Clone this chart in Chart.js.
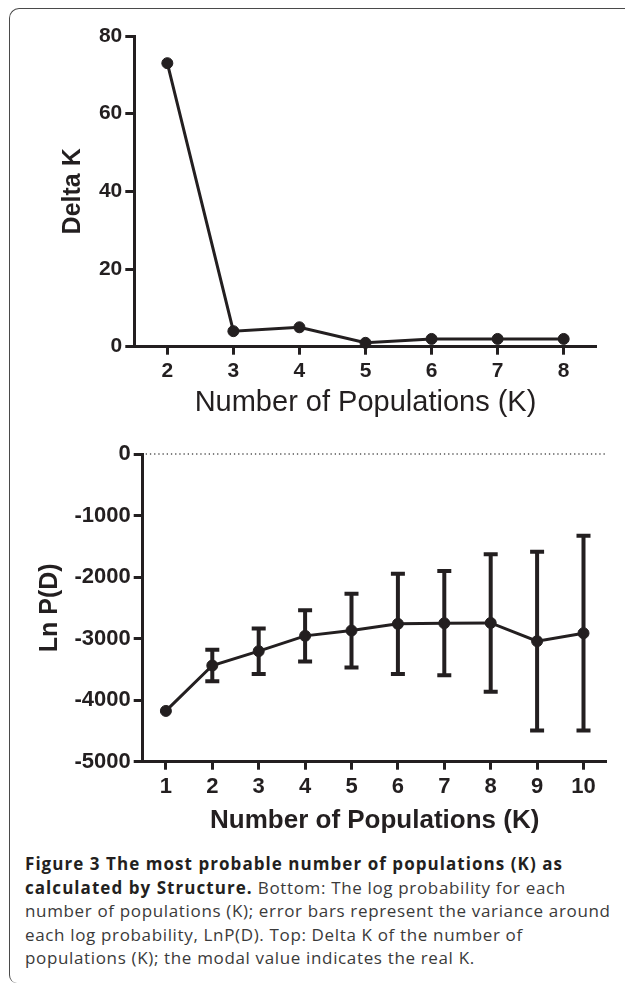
<!DOCTYPE html>
<html>
<head>
<meta charset="utf-8">
<script src="https://cdn.jsdelivr.net/npm/chart.js@4.4.1/dist/chart.umd.min.js"></script>
<style>
  html, body { margin: 0; padding: 0; background: #fff; }
  body { width: 625px; height: 985px; position: relative; overflow: hidden; }
  .frame {
    position: absolute; left: 9px; top: 8px; width: 700px; height: 974px;
    border-top: 1.5px solid #4a4a4a; border-left: 1.5px solid #4a4a4a;
    border-top-left-radius: 10px; border-bottom-left-radius: 8px;
  }
  canvas { position: absolute; left: 0; }
  #deltaKChart { top: 0; }
  #lnPChart { top: 430px; }
  .caption {
    position: absolute; left: 25px; top: 852px;
    font-family: "Open Sans", sans-serif; font-size: 17px; line-height: 23.6px;
    letter-spacing: 0.65px; color: #3a3a3a; white-space: nowrap;
  }
  .caption b { color: #231f20; font-weight: 700; letter-spacing: 1.05px; }
</style>
</head>
<body>
<div class="frame"></div>
<canvas id="deltaKChart" width="625" height="430" style="width:625px;height:430px"></canvas>
<canvas id="lnPChart" width="625" height="420" style="width:625px;height:420px"></canvas>
<div class="caption">
  <div><b>Figure 3 The most probable number of populations (K) as</b></div>
  <div><b>calculated by Structure.</b> Bottom: The log probability for each</div>
  <div>number of populations (K); error bars represent the variance around</div>
  <div>each log probability, LnP(D). Top: Delta K of the number of</div>
  <div>populations (K); the modal value indicates the real K.</div>
</div>
<script>
// Top panel: Delta K
const deltaK = [2, 3, 4, 5, 6, 7, 8];
const deltaKValues = [73, 4, 5, 1, 2, 2, 2];
const deltaKTicks = [0, 20, 40, 60, 80];

// Bottom panel: Ln P(D) with error bars
const populationsK = [1, 2, 3, 4, 5, 6, 7, 8, 9, 10];
const lnPMean = [-4175, -3437, -3204, -2955, -2869, -2760, -2750, -2745, -3042, -2912];
const lnPError = [0, 255, 370, 415, 600, 815, 847, 1118, 1452, 1582];
const lnPTicks = [-5000, -4000, -3000, -2000, -1000, 0];

const INK = '#231f20';
Chart.defaults.font.family = '"Liberation Sans", Arial, Helvetica, sans-serif';
Chart.defaults.color = INK;

const errorBars = {
    id: 'errorBars',
    beforeDatasetsDraw(chart) {
        // dotted reference line at zero
        const {ctx, chartArea, scales: {y}} = chart;
        const y0 = y.getPixelForValue(0);
        ctx.save();
        ctx.setLineDash([1.3, 2.9]);
        ctx.lineWidth = 1.3;
        ctx.strokeStyle = '#555';
        ctx.beginPath();
        ctx.moveTo(chartArea.left + 3, y0);
        ctx.lineTo(chartArea.right + 1, y0);
        ctx.stroke();
        ctx.restore();
    },
    afterDatasetsDraw(chart) {
        const {ctx, scales: {x, y}} = chart;
        ctx.save();
        ctx.strokeStyle = INK;
        ctx.lineWidth = 4;
        populationsK.forEach((k, i) => {
            const err = lnPError[i];
            if (!err) return;
            const px = x.getPixelForValue(k);
            const top = y.getPixelForValue(lnPMean[i] + err);
            const bot = y.getPixelForValue(lnPMean[i] - err);
            ctx.beginPath();
            ctx.moveTo(px, top);
            ctx.lineTo(px, bot);
            ctx.moveTo(px - 7, top);
            ctx.lineTo(px + 7, top);
            ctx.moveTo(px - 7, bot);
            ctx.lineTo(px + 7, bot);
            ctx.stroke();
        });
        ctx.restore();
    }
};

function axisGrid(len) {
    return {
        drawOnChartArea: false,
        drawTicks: true,
        tickLength: len,
        tickWidth: 3,
        tickColor: INK
    };
}

function lineDataset(xs, ys) {
    return {
        data: xs.map((k, i) => ({x: k, y: ys[i]})),
        borderColor: INK,
        borderWidth: 3,
        tension: 0,
        pointRadius: 5.5,
        pointBorderWidth: 1,
        pointBackgroundColor: INK,
        pointBorderColor: INK,
        clip: false
    };
}

const plainLabel = v => String(v);

new Chart(document.getElementById('deltaKChart'), {
    type: 'line',
    data: { datasets: [lineDataset(deltaK, deltaKValues)] },
    options: {
        responsive: false,
        animation: false,
        devicePixelRatio: 1,
        layout: { padding: { top: 36, right: 28.3, left: 0, bottom: 0 } },
        plugins: { legend: { display: false }, tooltip: { enabled: false } },
        scales: {
            x: {
                type: 'linear', min: 1.5, max: 8.5,
                afterBuildTicks: s => { s.ticks = deltaK.map(v => ({value: v})); },
                afterFit: s => { s.height = 83.3; },
                grid: axisGrid(8),
                border: { display: true, color: INK, width: 3 },
                ticks: { font: { size: 21, weight: 'bold' }, padding: 4, color: INK, callback: plainLabel },
                title: {
                    display: true, text: 'Number of Populations (K)',
                    font: { size: 29, weight: 'normal' }, color: INK,
                    padding: { top: 0, bottom: 10 }
                }
            },
            y: {
                min: 0, max: 80,
                afterBuildTicks: s => { s.ticks = deltaKTicks.map(v => ({value: v})); },
                afterFit: s => { s.width = 134.3; },
                grid: axisGrid(9),
                border: { display: true, color: INK, width: 3 },
                ticks: { font: { size: 21, weight: 'bold' }, padding: 3, color: INK, callback: plainLabel },
                title: {
                    display: true, text: 'Delta K',
                    font: { size: 25, weight: 'bold' }, color: INK,
                    padding: { top: 58, bottom: 0 }
                }
            }
        }
    }
});

new Chart(document.getElementById('lnPChart'), {
    type: 'line',
    data: { datasets: [lineDataset(populationsK, lnPMean)] },
    options: {
        responsive: false,
        animation: false,
        devicePixelRatio: 1,
        layout: { padding: { top: 24, right: 18.3, left: 0, bottom: 0 } },
        plugins: { legend: { display: false }, tooltip: { enabled: false } },
        scales: {
            x: {
                type: 'linear', min: 0.5, max: 10.5,
                afterBuildTicks: s => { s.ticks = populationsK.map(v => ({value: v})); },
                afterFit: s => { s.height = 88.3; },
                grid: axisGrid(8),
                border: { display: true, color: INK, width: 3 },
                ticks: { font: { size: 22, weight: 'bold' }, padding: 4, color: INK, callback: plainLabel },
                title: {
                    display: true, text: 'Number of Populations (K)',
                    font: { size: 26, weight: 'bold' }, color: INK,
                    padding: { top: 0, bottom: 14 }
                }
            },
            y: {
                min: -5000, max: 0,
                afterBuildTicks: s => { s.ticks = lnPTicks.map(v => ({value: v})); },
                afterFit: s => { s.width = 142.7; },
                grid: axisGrid(9),
                border: { display: true, color: INK, width: 3 },
                ticks: { font: { size: 22, weight: 'bold' }, padding: 3, color: INK, callback: plainLabel },
                title: {
                    display: true, text: 'Ln P(D)',
                    font: { size: 25, weight: 'bold' }, color: INK,
                    padding: { top: 35, bottom: 0 }
                }
            }
        }
    },
    plugins: [errorBars]
});
</script>
</body>
</html>
